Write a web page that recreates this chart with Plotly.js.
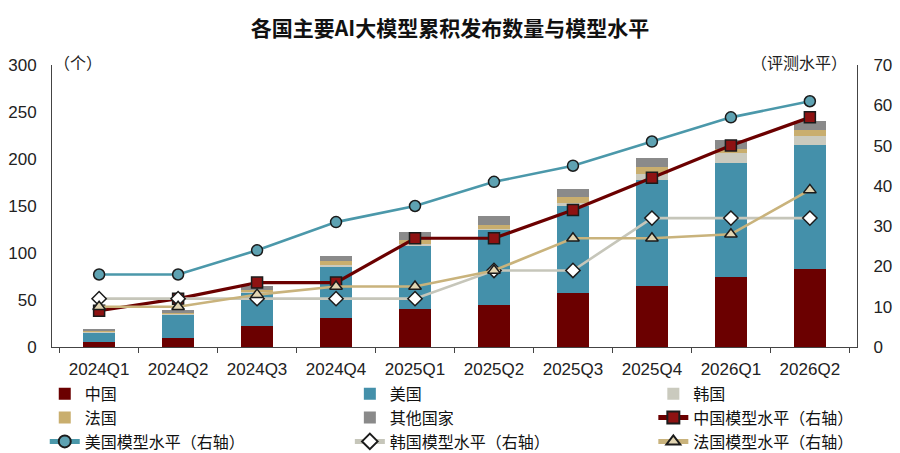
<!DOCTYPE html>
<html>
<head>
<meta charset="utf-8">
<script src="https://cdn.plot.ly/plotly-3.0.1.min.js"></script>
<style>
  html, body { margin: 0; padding: 0; background: #fff; }
  #chart { width: 900px; height: 453px; }
</style>
</head>
<body>
<div id="chart"></div>
<script>
// categories + stacked counts (个)
const quarters = ['2024Q1', '2024Q2', '2024Q3', '2024Q4', '2025Q1', '2025Q2', '2025Q3', '2025Q4', '2026Q1', '2026Q2'];
const cnChina  = [5, 10, 22, 31, 40, 45, 57, 65, 75, 83];
const cnUS     = [10, 24, 35, 54, 67, 79, 93, 113, 121, 132];
const cnKorea  = [1, 1, 2, 2, 3, 2, 3, 6, 10, 10];
const cnFrance = [1, 1, 2, 4, 4, 4, 7, 7, 5, 6];
const cnOther  = [2, 3, 4, 6, 8, 9, 8, 10, 9, 9];

// model level (评测水平), right axis
const lvChina  = [9, 12, 16, 16, 27, 27, 34, 42, 50, 57];
const lvUS     = [18, 18, 24, 31, 35, 41, 45, 51, 57, 61];
const lvKorea  = [12, 12, 12, 12, 12, 19, 19, 32, 32, 32];
const lvFrance = [10, 10, 13, 15, 15, 19, 27, 27, 28, 39];

const FONT = 'Liberation Sans, Arial, "Noto Sans CJK SC", sans-serif';
const CJK = '"Noto Sans CJK SC", "Liberation Sans", sans-serif';

// legend is laid out as 3 columns (legend, legend2, legend3), filled row by row like the original
function bar(name, y, color, lg) {
  return { type: 'bar', name, x: quarters, y, legend: lg, marker: { color, line: { width: 0 } }, hoverinfo: 'skip' };
}

function level(name, y, lineColor, width, symbol, fill, size, lg) {
  return {
    type: 'scatter', mode: 'lines+markers', name, x: quarters, y, yaxis: 'y2', legend: lg,
    line: { color: lineColor, width },
    marker: { symbol, size, color: fill, line: { color: '#1b1b1b', width: 1.5 } },
    hoverinfo: 'skip'
  };
}

const traces = [
  bar('中国', cnChina, '#6b0000', 'legend'),
  bar('美国', cnUS, '#4490aa', 'legend2'),
  bar('韩国', cnKorea, '#cacabe', 'legend3'),
  bar('法国', cnFrance, '#c9ae6e', 'legend'),
  bar('其他国家', cnOther, '#8a8a8a', 'legend2'),
  level('中国模型水平（右轴）', lvChina, '#6b0000', 3.2, 'square', '#8e1212', 11, 'legend3'),
  level('美国模型水平（右轴）', lvUS, '#4b98aa', 2.6, 'circle', '#5ea2b2', 11, 'legend'),
  level('韩国模型水平（右轴）', lvKorea, '#c6c6ba', 2.6, 'diamond', '#ffffff', 11, 'legend2'),
  level('法国模型水平（右轴）', lvFrance, '#c9b37c', 2.6, 'triangle-up', '#e2d5b2', 11, 'legend3')
];

function legendCol(x) {
  return {
    orientation: 'v', traceorder: 'normal',
    x, xanchor: 'left', y: -0.106, yanchor: 'top',
    font: { family: CJK, size: 16, color: '#111' },
    tracegroupgap: 0, itemsizing: 'constant', bgcolor: 'rgba(0,0,0,0)'
  };
}

const layout = {
  width: 900, height: 453,
  paper_bgcolor: '#ffffff', plot_bgcolor: '#ffffff',
  font: { family: FONT, color: '#222', size: 15 },
  margin: { l: 52, r: 43, t: 65, b: 106, autoexpand: false },
  title: {
    text: '<b>各国主要AI大模型累积发布数量与模型水平</b>',
    font: { family: CJK, size: 21, color: '#111' },
    x: 0.5, xanchor: 'center', y: 0.936, yanchor: 'middle'
  },
  barmode: 'stack',
  bargap: 0.6,
  showlegend: true,
  legend: legendCol(-0.009),
  legend2: legendCol(0.370),
  legend3: legendCol(0.747),
  xaxis: {
    type: 'category',
    showline: true, linecolor: '#444', linewidth: 1,
    ticks: 'outside', tickson: 'boundaries', ticklen: 5, tickcolor: '#444',
    ticklabelstandoff: 7,
    showgrid: false, zeroline: false,
    tickfont: { family: FONT, size: 17, color: '#222' }
  },
  yaxis: {
    range: [0, 300], dtick: 50,
    showline: true, linecolor: '#444', linewidth: 1,
    ticks: '', showgrid: false, zeroline: false, ticklabelstandoff: 11,
    tickfont: { family: FONT, size: 17, color: '#222' }
  },
  yaxis2: {
    overlaying: 'y', side: 'right',
    range: [0, 70], dtick: 10,
    showline: true, linecolor: '#444', linewidth: 1,
    ticks: '', showgrid: false, zeroline: false, ticklabelstandoff: 12,
    tickfont: { family: FONT, size: 17, color: '#222' }
  },
  annotations: [
    { text: '（个）', xref: 'paper', yref: 'paper', x: 0.0, y: 1.012, xanchor: 'left', yanchor: 'middle',
      showarrow: false, font: { family: CJK, size: 16, color: '#222' } },
    { text: '（评测水平）', xref: 'paper', yref: 'paper', x: 0.99, y: 1.012, xanchor: 'right', yanchor: 'middle',
      showarrow: false, font: { family: CJK, size: 16, color: '#222' } }
  ]
};

Plotly.newPlot('chart', traces, layout, { displayModeBar: false, staticPlot: true });
</script>
</body>
</html>
